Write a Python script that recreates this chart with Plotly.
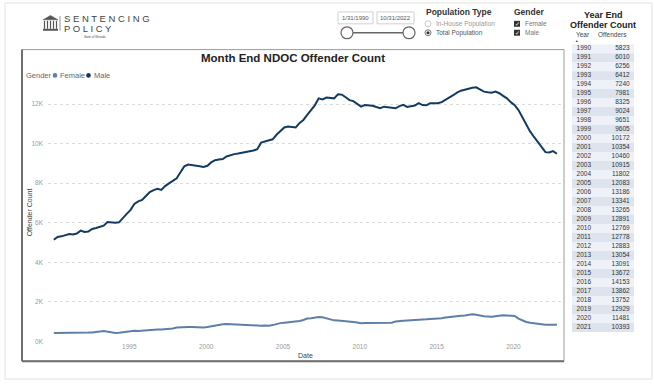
import plotly.graph_objects as go
import pandas as pd

W, H = 654, 384
def px(x): return x / W
def py(y): return 1 - y / H

# ---------------- data ----------------
dates = pd.date_range("1990-01-31", "2022-10-31", freq="3ME")

male = [
    5140, 5280, 5310, 5360,   5430, 5400, 5450, 5600,   5530, 5550, 5680, 5730,
    5800, 5850, 6030, 6000,   6000, 6020, 6250, 6450,   6650, 6950, 7080, 7150,
    7350, 7550, 7650, 7720,   7660, 7850, 7990, 8120,   8250, 8550, 8850, 8940,
    8920, 8900, 8860, 8820,   8880, 9050, 9160, 9200,   9220, 9350, 9420, 9470,
    9500, 9550, 9600, 9620,   9650, 9720, 10050, 10100, 10140, 10220, 10450, 10620,
    10820, 10870, 10860, 10820, 11050, 11200, 11450, 11700, 11950, 12290, 12240, 12330,
    12300, 12290, 12500, 12480, 12350, 12200, 12150, 12000, 11870, 11950, 11950, 11920,
    11850, 11790, 11870, 11850, 11820, 11790, 11900, 11960, 11860, 11880, 11930, 12050,
    11950, 11940, 12040, 12040, 12040, 12100, 12210, 12350, 12450, 12580, 12680, 12730,
    12800, 12830, 12850, 12740, 12630, 12600, 12580, 12630, 12550, 12420, 12290, 12100,
    11950, 11700, 11350, 10950, 10620, 10350, 10100, 9800,  9570, 9550, 9620, 9490,
]
female = [
    420, 420, 410, 420,   420, 430, 420, 430,   430, 440, 450, 460,
    500, 520, 480, 440,   420, 430, 460, 500,   530, 540, 520, 540,
    570, 590, 600, 600,   600, 610, 620, 650,   700, 720, 740, 730,
    720, 710, 700, 700,   720, 760, 790, 820,   860, 870, 860, 840,
    840, 830, 820, 810,   800, 800, 790, 800,   790, 820, 880, 920,
    940, 960, 970, 1000,  1030, 1080, 1150, 1170, 1200, 1230, 1220, 1170,
    1100, 1060, 1050, 1040, 1020, 1000, 980, 950,  920, 930, 930, 940,
    940, 930, 920, 920,   940, 1000, 1030, 1040, 1050, 1070, 1090, 1100,
    1100, 1110, 1120, 1130, 1140, 1170, 1200, 1230, 1250, 1270, 1290, 1310,
    1340, 1370, 1340, 1300, 1270, 1260, 1240, 1270, 1300, 1320, 1310, 1300,
    1280, 1150, 1050, 980,  940, 910, 900, 870,   840, 840, 840, 840,
]

table_years = list(range(1990, 2022))
table_offenders = [5823, 6010, 6256, 6412, 7240, 7981, 8325, 9024, 9651, 9605,
                   10172, 10354, 10460, 10915, 11802, 12083, 13186, 13341, 13265,
                   12891, 12769, 12778, 12883, 13054, 13091, 13672, 14153, 13862,
                   13752, 12929, 11481, 10393]

y_ticks = [0, 2000, 4000, 6000, 8000, 10000, 12000]
y_tick_labels = ["0K", "2K", "4K", "6K", "8K", "10K", "12K"]
x_ticks = ["1995-01-01", "2000-01-01", "2005-01-01", "2010-01-01", "2015-01-01", "2020-01-01"]
x_tick_labels = ["1995", "2000", "2005", "2010", "2015", "2020"]

MALE_C = "#123B61"
FEMALE_C = "#5D7FA8"
FONT = "Liberation Sans, Arial, sans-serif"

fig = go.Figure()
fig.add_trace(go.Scatter(x=dates, y=female, mode="lines", name="Female",
                         line=dict(color=FEMALE_C, width=2), showlegend=False))
fig.add_trace(go.Scatter(x=dates, y=male, mode="lines", name="Male",
                         line=dict(color=MALE_C, width=2), showlegend=False))

# year-end table drawn on its own axes
fig.add_trace(go.Scatter(x=[0.19] * len(table_years), y=table_years,
                         text=[str(v) for v in table_years], mode="text",
                         textposition="middle center", xaxis="x2", yaxis="y2",
                         textfont=dict(family=FONT, size=6.5, color="#333"),
                         showlegend=False, hoverinfo="skip"))
fig.add_trace(go.Scatter(x=[0.93] * len(table_years), y=table_years,
                         text=[str(v) for v in table_offenders], mode="text",
                         textposition="middle left", xaxis="x2", yaxis="y2",
                         textfont=dict(family=FONT, size=6.5, color="#333"),
                         showlegend=False, hoverinfo="skip"))

shapes = []
ann = []
def rect(x0, y0, x1, y1, **kw):
    shapes.append(dict(type="rect", xref="paper", yref="paper",
                       x0=px(x0), x1=px(x1), y0=py(y1), y1=py(y0), **kw))
def line(x0, y0, x1, y1, **kw):
    shapes.append(dict(type="line", xref="paper", yref="paper",
                       x0=px(x0), x1=px(x1), y0=py(y0), y1=py(y1), **kw))
def circ(cx, cy, r, **kw):
    shapes.append(dict(type="circle", xref="paper", yref="paper",
                       x0=px(cx - r), x1=px(cx + r), y0=py(cy + r), y1=py(cy - r), **kw))
def text(x, y, t, size=8, color="#444", xanchor="left", **kw):
    ann.append(dict(x=px(x), y=py(y), xref="paper", yref="paper", text=t, showarrow=False,
                    xanchor=xanchor, yanchor="middle",
                    font=dict(family=FONT, size=size, color=color), **kw))

# table stripes
for i, yr in enumerate(table_years):
    shapes.append(dict(type="rect", xref="paper", yref="y2", layer="below",
                       x0=px(572), x1=px(634), y0=yr - 0.5, y1=yr + 0.5,
                       fillcolor="#eef2f8" if i % 2 == 0 else "#dde4ee", line=dict(width=0)))

# page frame
rect(5, 3, 652, 382, line=dict(color="#e2e2e2", width=1))
# chart card
rect(22, 50, 564, 364, line=dict(color="#9a9a9a", width=1))
line(22, 50, 22, 364, line=dict(color="#6e6e6e", width=2))
line(22, 364, 564, 364, line=dict(color="#6e6e6e", width=2))

# logo
shapes.append(dict(type="path", xref="paper", yref="paper",
                   path=f"M {px(43)},{py(20)} L {px(50.5)},{py(15.5)} L {px(58)},{py(20)} Z",
                   fillcolor="#555", line=dict(color="#555", width=0.5)))
for cx in [45, 48, 51, 54, 57]:
    line(cx - 0.5, 21, cx - 0.5, 29, line=dict(color="#555", width=1.2))
rect(43, 29, 58, 31, fillcolor="#555", line=dict(width=0))
line(60, 16, 60, 31, line=dict(color="#777", width=0.8))
text(62, 18.5, "S E N T E N C I N G", size=9.5, color="#444")
text(62, 29, "P O L I C Y", size=9.5, color="#444")
text(95, 37.5, "<i>State of Nevada</i>", size=3, color="#444", xanchor="center")

# date slicer
rect(338, 12, 373, 24, line=dict(color="#d0d0d0", width=1))
rect(377, 12, 414, 24, line=dict(color="#d0d0d0", width=1))
text(355.5, 18, "1/31/1990", size=6, color="#555", xanchor="center")
text(395.5, 18, "10/31/2022", size=6, color="#555", xanchor="center")
line(347, 33, 409, 33, line=dict(color="#666", width=1.5))
circ(347, 33, 6, fillcolor="white", line=dict(color="#666", width=1.2))
circ(409, 33, 6, fillcolor="white", line=dict(color="#666", width=1.2))

# population type
text(424, 12, "<b>Population Type</b>", size=8.5, color="#333")
circ(428, 24, 3, fillcolor="white", line=dict(color="#bbb", width=0.8))
circ(428, 33, 3, fillcolor="white", line=dict(color="#555", width=0.8))
circ(428, 33, 1.6, fillcolor="#333", line=dict(width=0))
text(434, 24, "In-House Population", size=6.5, color="#999")
text(434, 33, "Total Population", size=6.5, color="#555")

# gender slicer
text(512, 12, "<b>Gender</b>", size=8.5, color="#333")
rect(514, 21, 520, 27, fillcolor="#333", line=dict(width=0))
rect(514, 30, 520, 36, fillcolor="#333", line=dict(width=0))
text(517, 24, "✓", size=6, color="white", xanchor="center")
text(517, 33, "✓", size=6, color="white", xanchor="center")
text(523, 24, "Female", size=6.5, color="#777")
text(523, 33, "Male", size=6.5, color="#777")

# right panel
text(603, 15, "<b>Year End</b>", size=9, color="#222", xanchor="center")
text(603, 25, "<b>Offender Count</b>", size=9, color="#222", xanchor="center")
text(574, 35, "Year", size=6.5, color="#444")
text(629, 35, "Offenders", size=6.5, color="#444", xanchor="right")
text(576.5, 41, "▲", size=3.5, color="#444", xanchor="center")

# chart title and legend
text(293, 58, "<b>Month End NDOC Offender Count</b>", size=11.5, color="#222", xanchor="center")
text(24, 76, "Gender", size=7.5, color="#666")
circ(55, 76, 2.3, fillcolor=FEMALE_C, line=dict(width=0))
text(58, 76, "Female", size=7.5, color="#666")
circ(88.5, 76, 2.3, fillcolor=MALE_C, line=dict(width=0))
text(92, 76, "Male", size=7.5, color="#666")

# axis titles
text(29, 214, "Offender Count", size=7, color="#444", xanchor="center", textangle=-90)
text(305, 358, "Date", size=7, color="#444", xanchor="center")

fig.update_layout(
    width=W, height=H, margin=dict(l=0, r=0, t=0, b=0),
    paper_bgcolor="white", plot_bgcolor="white",
    showlegend=False, shapes=shapes, annotations=ann,
    font=dict(family=FONT),
    xaxis=dict(domain=[px(48), px(562)], range=["1989-09-15", "2023-03-01"],
               tickvals=x_ticks, ticktext=x_tick_labels, showgrid=False, zeroline=False,
               showline=False, ticks="", tickfont=dict(size=6.5, color="#999")),
    yaxis=dict(domain=[py(344), py(85)], range=[0, 13000],
               tickvals=y_ticks, ticktext=y_tick_labels, showgrid=True,
               gridcolor="#dcdcdc", griddash="dot", gridwidth=1, zeroline=False,
               showline=False, ticks="", tickfont=dict(size=6.5, color="#999"),
               ticklabelstandoff=4),
    xaxis2=dict(domain=[px(572), px(634)], range=[0, 1], anchor="y2",
                visible=False, fixedrange=True),
    yaxis2=dict(domain=[py(334.5), py(44.5)], range=[2021.5, 1989.5], anchor="x2",
                visible=False, fixedrange=True),
)

fig.write_html("out.html", config={"displayModeBar": False},
               post_script="document.body.style.margin='0';")
